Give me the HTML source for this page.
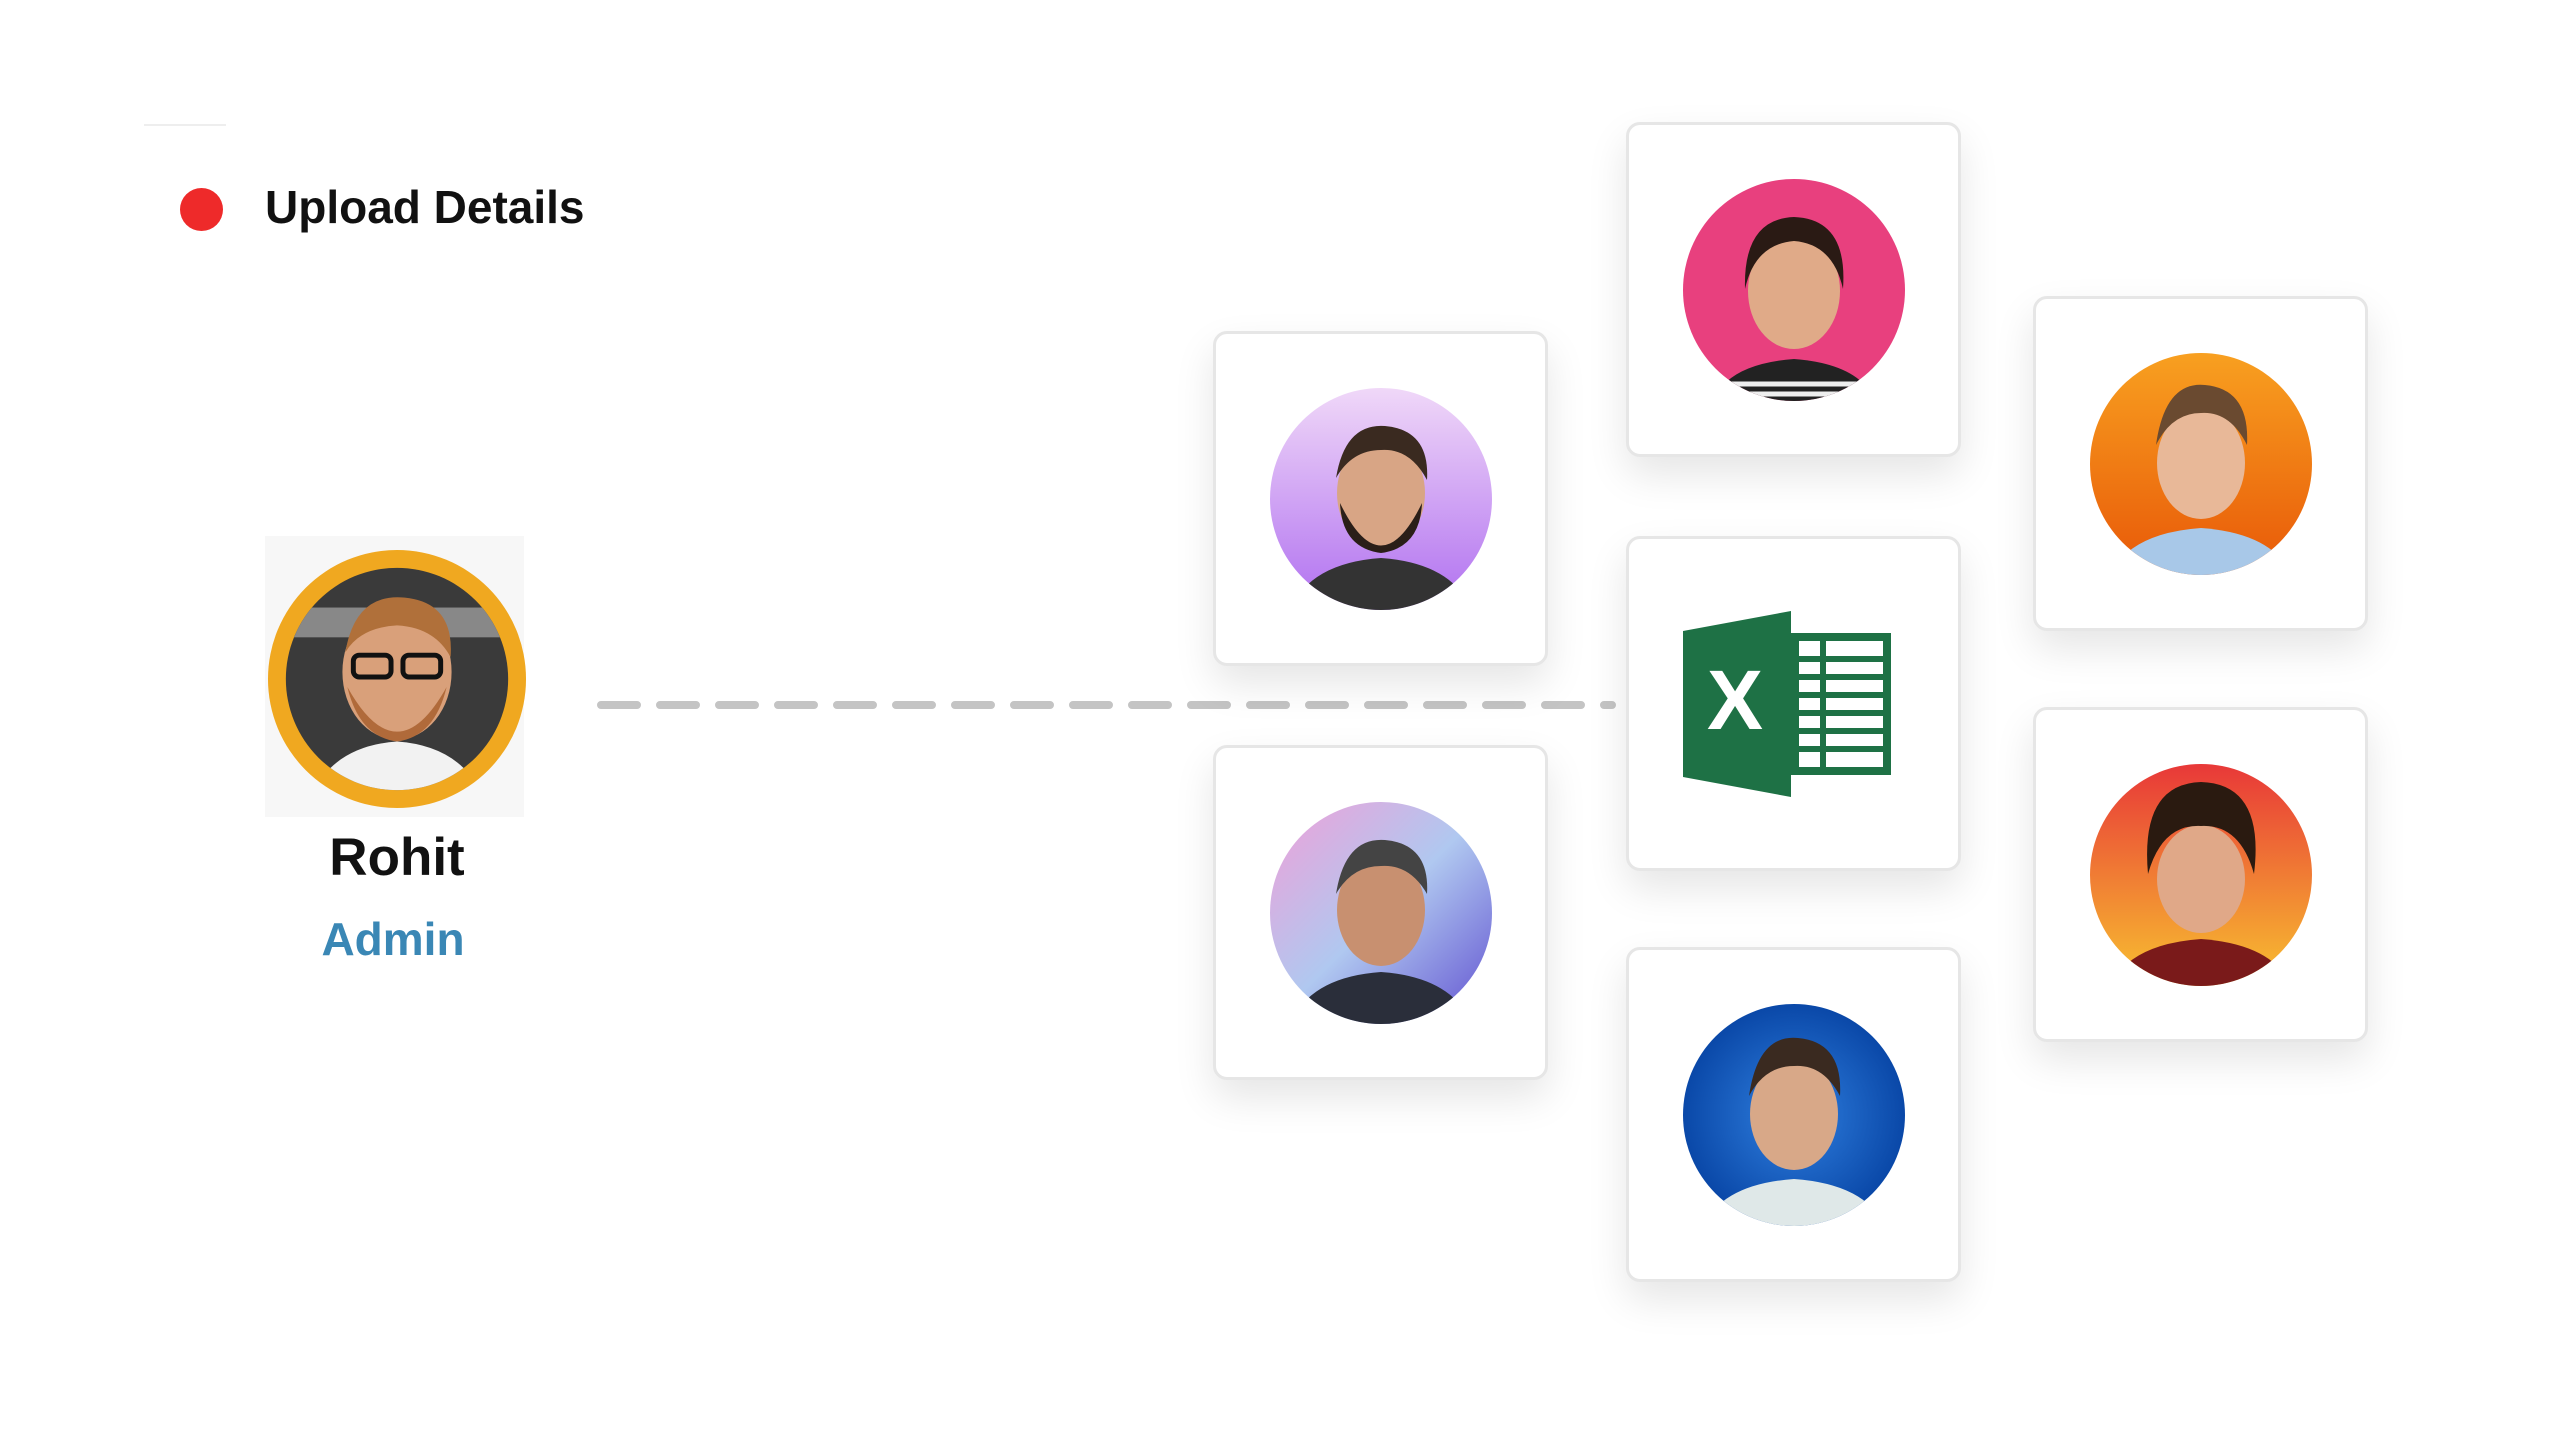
<!DOCTYPE html>
<html><head><meta charset="utf-8"><style>
body{margin:0;width:2560px;height:1440px;background:#fff;position:relative;overflow:hidden;font-family:"Liberation Sans",sans-serif}
.card{position:absolute;width:335px;height:335px;background:#fff;border:3px solid #e6e6e6;border-radius:14px;box-shadow:0 18px 40px rgba(0,0,0,0.10);box-sizing:border-box}
.card svg{position:absolute;left:54px;top:54px}
</style></head><body>
<div style="position:absolute;left:144px;top:124px;width:82px;height:2px;background:#eee"></div>
<div style="position:absolute;left:180px;top:188px;width:43px;height:43px;border-radius:50%;background:#ee2a2a"></div>
<div style="position:absolute;left:265px;top:180px;font-size:46px;font-weight:bold;color:#111">Upload Details</div>

<div style="position:absolute;left:265px;top:536px;width:259px;height:281px;background:#f7f7f7"></div>
<svg style="position:absolute;left:266px;top:548px" width="262" height="262" viewBox="0 0 264 264">
<defs><clipPath id="r"><circle cx="132" cy="132" r="112"/></clipPath></defs>
<circle cx="132" cy="132" r="130" fill="#f0a820"/>
<g clip-path="url(#r)"><rect width="264" height="264" fill="#3a3a3a"/>
<rect x="0" y="60" width="264" height="30" fill="#888"/>
<path d="M40 264 Q60 200 132 195 Q204 200 224 264Z" fill="#f2f2f2"/>
<ellipse cx="132" cy="125" rx="55" ry="68" fill="#d9a07a"/>
<path d="M80 105 Q90 45 140 50 Q190 55 186 110 Q170 80 132 78 Q95 80 80 105Z" fill="#b0703a"/>
<path d="M82 140 Q132 230 182 140 Q170 190 132 195 Q94 190 82 140Z" fill="#b06a3a"/>
<rect x="88" y="108" width="38" height="22" rx="6" fill="none" stroke="#111" stroke-width="5"/>
<rect x="138" y="108" width="38" height="22" rx="6" fill="none" stroke="#111" stroke-width="5"/></g>
</svg>
<div style="position:absolute;left:247px;top:827px;width:300px;text-align:center;font-size:53px;font-weight:bold;color:#111">Rohit</div>
<div style="position:absolute;left:243px;top:912px;width:300px;text-align:center;font-size:46px;font-weight:bold;color:#3a87b5">Admin</div>

<svg style="position:absolute;left:594px;top:692px" width="1030" height="26"><line x1="7" y1="13" x2="1018" y2="13" stroke="#c4c4c4" stroke-width="8" stroke-dasharray="36 23" stroke-linecap="round"/></svg>

<div class="card" style="left:1213px;top:331px"><svg width="222" height="222"><defs><linearGradient id="ga" x1="0" y1="0" x2="0" y2="1"><stop offset="0" stop-color="#f0d8f8"/><stop offset="1" stop-color="#b070f0"/></linearGradient><clipPath id="ca"><circle cx="111" cy="111" r="111"/></clipPath></defs><g clip-path="url(#ca)"><rect width="222" height="222" fill="url(#ga)"/><path d="M20 222 Q40 175 111 170 Q182 175 202 222Z" fill="#333"/><ellipse cx="111" cy="105" rx="44" ry="56" fill="#d8a585"/><path d="M66 90 Q75 35 115 38 Q160 42 157 92 Q140 60 111 62 Q82 62 66 90Z" fill="#3a2a20"/><path d="M70 115 Q111 200 152 115 Q150 160 111 165 Q72 160 70 115Z" fill="#2a1e18"/></g></svg></div>

<div class="card" style="left:1213px;top:745px"><svg width="222" height="222"><defs><linearGradient id="gb" x1="0" y1="0" x2="1" y2="1"><stop offset="0" stop-color="#f0a0d8"/><stop offset="0.5" stop-color="#b0c8f0"/><stop offset="1" stop-color="#6050d0"/></linearGradient><clipPath id="cb"><circle cx="111" cy="111" r="111"/></clipPath></defs><g clip-path="url(#cb)"><rect width="222" height="222" fill="url(#gb)"/><path d="M20 222 Q40 175 111 170 Q182 175 202 222Z" fill="#2a2e3a"/><ellipse cx="111" cy="108" rx="44" ry="56" fill="#c89070"/><path d="M66 92 Q75 35 115 38 Q160 42 157 92 Q140 62 111 64 Q82 64 66 92Z" fill="#444"/></g></svg></div>

<div class="card" style="left:1626px;top:122px"><svg width="222" height="222"><defs><clipPath id="cc"><circle cx="111" cy="111" r="111"/></clipPath></defs><g clip-path="url(#cc)"><rect width="222" height="222" fill="#e8407e"/><path d="M30 222 Q45 185 111 180 Q177 185 192 222Z" fill="#222"/><path d="M40 205 H190 M40 215 H190" stroke="#eee" stroke-width="5"/><ellipse cx="111" cy="112" rx="46" ry="58" fill="#e0aa88"/><path d="M62 110 Q60 40 111 38 Q165 40 160 110 Q150 65 111 62 Q72 65 62 110Z" fill="#2a1a14"/></g></svg></div>

<div class="card" style="left:1626px;top:536px"><svg width="222" height="222" viewBox="0 0 222 222"><path d="M0 38 L108 18 L108 204 L0 184Z" fill="#1e7145"/><rect x="108" y="40" width="100" height="142" fill="#1e7145"/><rect x="116" y="48" width="84" height="126" fill="#fff"/><g stroke="#1e7145" stroke-width="6"><line x1="116" y1="66" x2="200" y2="66"/><line x1="116" y1="84" x2="200" y2="84"/><line x1="116" y1="102" x2="200" y2="102"/><line x1="116" y1="120" x2="200" y2="120"/><line x1="116" y1="138" x2="200" y2="138"/><line x1="116" y1="156" x2="200" y2="156"/><line x1="140" y1="48" x2="140" y2="174"/></g><text x="52" y="136" font-family="Liberation Sans" font-weight="bold" font-size="84" fill="#fff" text-anchor="middle">X</text></svg></div>

<div class="card" style="left:1626px;top:947px"><svg width="222" height="222"><defs><radialGradient id="ge"><stop offset="0" stop-color="#3080e0"/><stop offset="1" stop-color="#0a48a8"/></radialGradient><clipPath id="ce"><circle cx="111" cy="111" r="111"/></clipPath></defs><g clip-path="url(#ce)"><rect width="222" height="222" fill="url(#ge)"/><path d="M20 222 Q40 180 111 175 Q182 180 202 222Z" fill="#dfe8e8"/><ellipse cx="111" cy="110" rx="44" ry="56" fill="#d8a888"/><path d="M66 92 Q75 30 115 34 Q160 38 157 92 Q140 60 111 62 Q82 62 66 92Z" fill="#3a2a20"/></g></svg></div>

<div class="card" style="left:2033px;top:296px"><svg width="222" height="222"><defs><linearGradient id="gf" x1="0" y1="0" x2="0" y2="1"><stop offset="0" stop-color="#f8a020"/><stop offset="1" stop-color="#e85808"/></linearGradient><clipPath id="cf"><circle cx="111" cy="111" r="111"/></clipPath></defs><g clip-path="url(#cf)"><rect width="222" height="222" fill="url(#gf)"/><path d="M20 222 Q40 180 111 175 Q182 180 202 222Z" fill="#a8c8e8"/><ellipse cx="111" cy="110" rx="44" ry="56" fill="#e8b898"/><path d="M66 92 Q75 28 115 32 Q160 36 157 92 Q140 58 111 60 Q82 60 66 92Z" fill="#6a4a30"/></g></svg></div>

<div class="card" style="left:2033px;top:707px"><svg width="222" height="222"><defs><linearGradient id="gg" x1="0" y1="0" x2="0" y2="1"><stop offset="0" stop-color="#e83838"/><stop offset="1" stop-color="#f8c030"/></linearGradient><clipPath id="cg"><circle cx="111" cy="111" r="111"/></clipPath></defs><g clip-path="url(#cg)"><rect width="222" height="222" fill="url(#gg)"/><path d="M20 222 Q40 180 111 175 Q182 180 202 222Z" fill="#7a1a1a"/><ellipse cx="111" cy="115" rx="44" ry="54" fill="#e0a888"/><path d="M58 110 Q50 20 111 18 Q175 20 164 110 Q150 60 111 62 Q72 60 58 110Z" fill="#2a1a10"/></g></svg></div>
</body></html>
